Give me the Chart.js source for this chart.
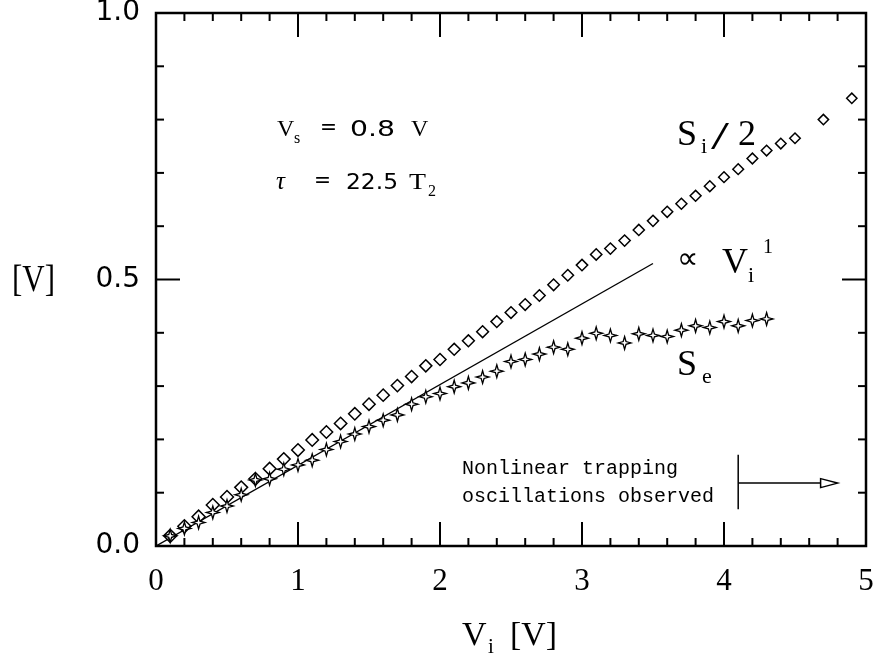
<!DOCTYPE html>
<html>
<head>
<meta charset="utf-8">
<script src="https://cdn.jsdelivr.net/npm/chart.js@4.4.0/dist/chart.umd.min.js"></script>
<style>
  html, body { margin: 0; padding: 0; background: #fff; }
</style>
</head>
<body>
<canvas id="chart" width="877" height="661"></canvas>
<script>
// data
const siX = [0.1, 0.2, 0.3, 0.4, 0.5, 0.6, 0.7, 0.8, 0.9, 1.0,
             1.1, 1.2, 1.3, 1.4, 1.5, 1.6, 1.7, 1.8, 1.9, 2.0,
             2.1, 2.2, 2.3, 2.4, 2.5, 2.6, 2.7, 2.8, 2.9, 3.0,
             3.1, 3.2, 3.3, 3.4, 3.5, 3.6, 3.7, 3.8, 3.9, 4.0,
             4.1, 4.2, 4.3, 4.4, 4.5, 4.7, 4.9];
const siHalf = [0.019, 0.037, 0.055, 0.077, 0.092, 0.110, 0.126, 0.145, 0.163, 0.180,
                0.199, 0.214, 0.230, 0.248, 0.266, 0.283, 0.301, 0.318, 0.338, 0.350,
                0.369, 0.385, 0.402, 0.421, 0.438, 0.453, 0.470, 0.490, 0.508, 0.527,
                0.547, 0.558, 0.573, 0.593, 0.610, 0.627, 0.642, 0.657, 0.675, 0.692,
                0.707, 0.727, 0.742, 0.755, 0.765, 0.800, 0.840];

const seX = [0.1, 0.2, 0.3, 0.4, 0.5, 0.6, 0.7, 0.8, 0.9, 1.0,
             1.1, 1.2, 1.3, 1.4, 1.5, 1.6, 1.7, 1.8, 1.9, 2.0,
             2.1, 2.2, 2.3, 2.4, 2.5, 2.6, 2.7, 2.8, 2.9, 3.0,
             3.1, 3.2, 3.3, 3.4, 3.5, 3.6, 3.7, 3.8, 3.9, 4.0,
             4.1, 4.2, 4.3];
const se = [0.019, 0.033, 0.044, 0.063, 0.075, 0.096, 0.124, 0.126, 0.144, 0.152,
            0.161, 0.181, 0.196, 0.210, 0.224, 0.236, 0.246, 0.266, 0.280, 0.286,
            0.299, 0.306, 0.317, 0.328, 0.346, 0.350, 0.360, 0.373, 0.369, 0.390,
            0.399, 0.395, 0.381, 0.398, 0.395, 0.393, 0.405, 0.413, 0.410, 0.421,
            0.413, 0.423, 0.426];

// proportional-to-Vi guide line
const fitX = [0, 3.5];
const fitY = [0, 0.53];

// "nonlinear trapping" marker: start bar and arrow
const trapX = [4.1, 4.8];
const trapBarY = [0.069, 0.171];
const trapArrowY = 0.118;

const xTicks = [0, 1, 2, 3, 4, 5];
const xMinorTicks = [0.2, 0.4, 0.6, 0.8, 1.2, 1.4, 1.6, 1.8, 2.2, 2.4, 2.6, 2.8,
                     3.2, 3.4, 3.6, 3.8, 4.2, 4.4, 4.6, 4.8];
const yTicks = [0, 0.5, 1.0];
const yMinorTicks = [0.1, 0.2, 0.3, 0.4, 0.6, 0.7, 0.8, 0.9];

const SERIF = '"Liberation Serif", "DejaVu Serif", serif';
const SANS = '"DejaVu Sans", sans-serif';
const MONO = '"Liberation Mono", monospace';

function put(ctx, t, x, y, font) {
    ctx.font = font;
    ctx.fillText(t, x, y);
}

// draw text squeezed/stretched to a given width
function fit(ctx, t, x, y, font, w) {
    ctx.font = font;
    const m = ctx.measureText(t).width;
    ctx.save();
    ctx.translate(x, y);
    ctx.scale(w / m, 1);
    ctx.fillText(t, 0, 0);
    ctx.restore();
}

// four pointed star, drawn as a vector path at the point the chart placed
function starPath(ctx, cx, cy, R, r) {
    ctx.beginPath();
    for (let k = 0; k < 8; k++) {
        const a = k * Math.PI / 4 - Math.PI / 2;
        const rad = k % 2 === 0 ? R : r;
        const px = cx + rad * Math.cos(a), py = cy + rad * Math.sin(a);
        if (k === 0) ctx.moveTo(px, py); else ctx.lineTo(px, py);
    }
    ctx.closePath();
}

const starPlugin = {
    id: 'stars',
    afterDatasetsDraw(chart) {
        const ctx = chart.ctx;
        const meta = chart.getDatasetMeta(1);
        ctx.save();
        ctx.lineWidth = 1.3;
        ctx.strokeStyle = '#000';
        ctx.fillStyle = '#fff';
        meta.data.forEach(pt => {
            starPath(ctx, pt.x, pt.y, 6.4, 2.0);
            ctx.fill();
            ctx.stroke();
        });
        ctx.restore();
    }
};

const framePlugin = {
    id: 'frame',
    afterDraw(chart) {
        const { ctx, chartArea: a, scales: { x, y } } = chart;
        ctx.save();
        ctx.strokeStyle = '#000';
        ctx.lineCap = 'butt';

        const seg = (x1, y1, x2, y2) => {
            ctx.beginPath(); ctx.moveTo(x1, y1); ctx.lineTo(x2, y2); ctx.stroke();
        };

        // inward ticks on all four sides
        ctx.lineWidth = 2;
        xTicks.forEach(v => {
            const p = x.getPixelForValue(v);
            seg(p, a.bottom, p, a.bottom - 24);
            seg(p, a.top, p, a.top + 24);
        });
        xMinorTicks.forEach(v => {
            const p = x.getPixelForValue(v);
            seg(p, a.bottom, p, a.bottom - 8);
            seg(p, a.top, p, a.top + 8);
        });
        yTicks.forEach(v => {
            const p = y.getPixelForValue(v);
            seg(a.left, p, a.left + 24, p);
            seg(a.right, p, a.right - 24, p);
        });
        yMinorTicks.forEach(v => {
            const p = y.getPixelForValue(v);
            seg(a.left, p, a.left + 8, p);
            seg(a.right, p, a.right - 8, p);
        });

        ctx.lineWidth = 2.5;
        ctx.strokeRect(a.left, a.top, a.width, a.height);

        // trapping marker
        ctx.lineWidth = 1.5;
        const bx = x.getPixelForValue(trapX[0]);
        seg(bx, y.getPixelForValue(trapBarY[0]), bx, y.getPixelForValue(trapBarY[1]));
        const ay = y.getPixelForValue(trapArrowY);
        const tip = x.getPixelForValue(trapX[1]);
        seg(bx, ay, tip - 17, ay);
        ctx.beginPath();
        ctx.moveTo(tip - 17, ay - 4.5);
        ctx.lineTo(tip, ay);
        ctx.lineTo(tip - 17, ay + 4.5);
        ctx.closePath();
        ctx.stroke();

        // labels
        ctx.fillStyle = '#000';
        ctx.textAlign = 'left';
        ctx.textBaseline = 'alphabetic';

        put(ctx, 'S', 677, 145, `36px ${SERIF}`);
        put(ctx, 'i', 701, 153, `22px ${SERIF}`);
        fit(ctx, '/', 711, 149, `40px ${SERIF}`, 18);
        put(ctx, '2', 738, 145, `36px ${SERIF}`);

        put(ctx, '\u221D', 677, 268, `30px ${SANS}`);
        put(ctx, 'V', 722, 273, `36px ${SERIF}`);
        put(ctx, 'i', 748, 282, `22px ${SERIF}`);
        put(ctx, '1', 763, 253, `20px ${SERIF}`);

        put(ctx, 'S', 677, 375, `36px ${SERIF}`);
        put(ctx, 'e', 702, 383, `22px ${SERIF}`);

        put(ctx, 'V', 277, 136, `24px ${SERIF}`);
        put(ctx, 's', 294, 143, `16px ${SERIF}`);
        fit(ctx, '=', 320, 134, `22px ${SANS}`, 17);
        fit(ctx, '0.8', 350, 136, `22px ${SANS}`, 45);
        put(ctx, 'V', 411, 136, `24px ${SERIF}`);

        put(ctx, '\u03C4', 276, 189, `italic 25px ${SERIF}`);
        fit(ctx, '=', 314, 187, `22px ${SANS}`, 17);
        fit(ctx, '22.5', 346, 189, `22px ${SANS}`, 52);
        fit(ctx, 'T', 409, 189, `24px ${SERIF}`, 17);
        put(ctx, '2', 428, 196, `16px ${SERIF}`);

        put(ctx, 'Nonlinear trapping', 462, 474, `20px ${MONO}`);
        put(ctx, 'oscillations observed', 462, 502, `20px ${MONO}`);

        // axis titles
        fit(ctx, '[V]', 12, 291, `38px ${SERIF}`, 43);
        put(ctx, 'V', 462, 645, `34px ${SERIF}`);
        put(ctx, 'i', 488, 653, `21px ${SERIF}`);
        fit(ctx, '[V]', 510, 645, `34px ${SERIF}`, 47);

        ctx.restore();
    }
};

const ctx = document.getElementById('chart').getContext('2d');

new Chart(ctx, {
    type: 'scatter',
    data: {
        datasets: [
            {
                label: 'Si/2',
                data: siX.map((v, i) => ({ x: v, y: siHalf[i] })),
                pointStyle: 'rectRot',
                pointRadius: c => 6.6 - 0.3 * (c.raw ? c.raw.x : 0),
                borderColor: '#000',
                backgroundColor: 'rgba(0,0,0,0)',
                pointBorderWidth: 1.5,
                showLine: false
            },
            {
                label: 'Se',
                data: seX.map((v, i) => ({ x: v, y: se[i] })),
                pointRadius: 0,
                showLine: false
            },
            {
                label: 'fit',
                data: fitX.map((v, i) => ({ x: v, y: fitY[i] })),
                showLine: true,
                pointRadius: 0,
                borderColor: '#000',
                borderWidth: 1.4,
                fill: false
            }
        ]
    },
    options: {
        responsive: false,
        animation: false,
        events: [],
        layout: { padding: { top: 13, right: 11, left: 0, bottom: 0 } },
        plugins: {
            legend: { display: false },
            tooltip: { enabled: false }
        },
        scales: {
            x: {
                type: 'linear',
                min: 0,
                max: 5,
                afterBuildTicks: s => { s.ticks = xTicks.map(v => ({ value: v })); },
                afterFit: s => { s.height = 115; s.paddingLeft = 0; s.paddingRight = 0; },
                grid: { display: false },
                border: { display: false },
                ticks: {
                    color: '#000',
                    font: { family: SERIF, size: 31 },
                    padding: 9,
                    maxRotation: 0,
                    callback: v => String(v)
                }
            },
            y: {
                type: 'linear',
                min: 0,
                max: 1,
                afterBuildTicks: s => { s.ticks = yTicks.map(v => ({ value: v })); },
                afterFit: s => { s.width = 156; s.paddingTop = 0; s.paddingBottom = 0; },
                grid: { display: false },
                border: { display: false },
                ticks: {
                    color: '#000',
                    font: { family: SANS, size: 28 },
                    padding: 8,
                    callback: v => v.toFixed(1)
                }
            }
        }
    },
    plugins: [starPlugin, framePlugin]
});
</script>
</body>
</html>
